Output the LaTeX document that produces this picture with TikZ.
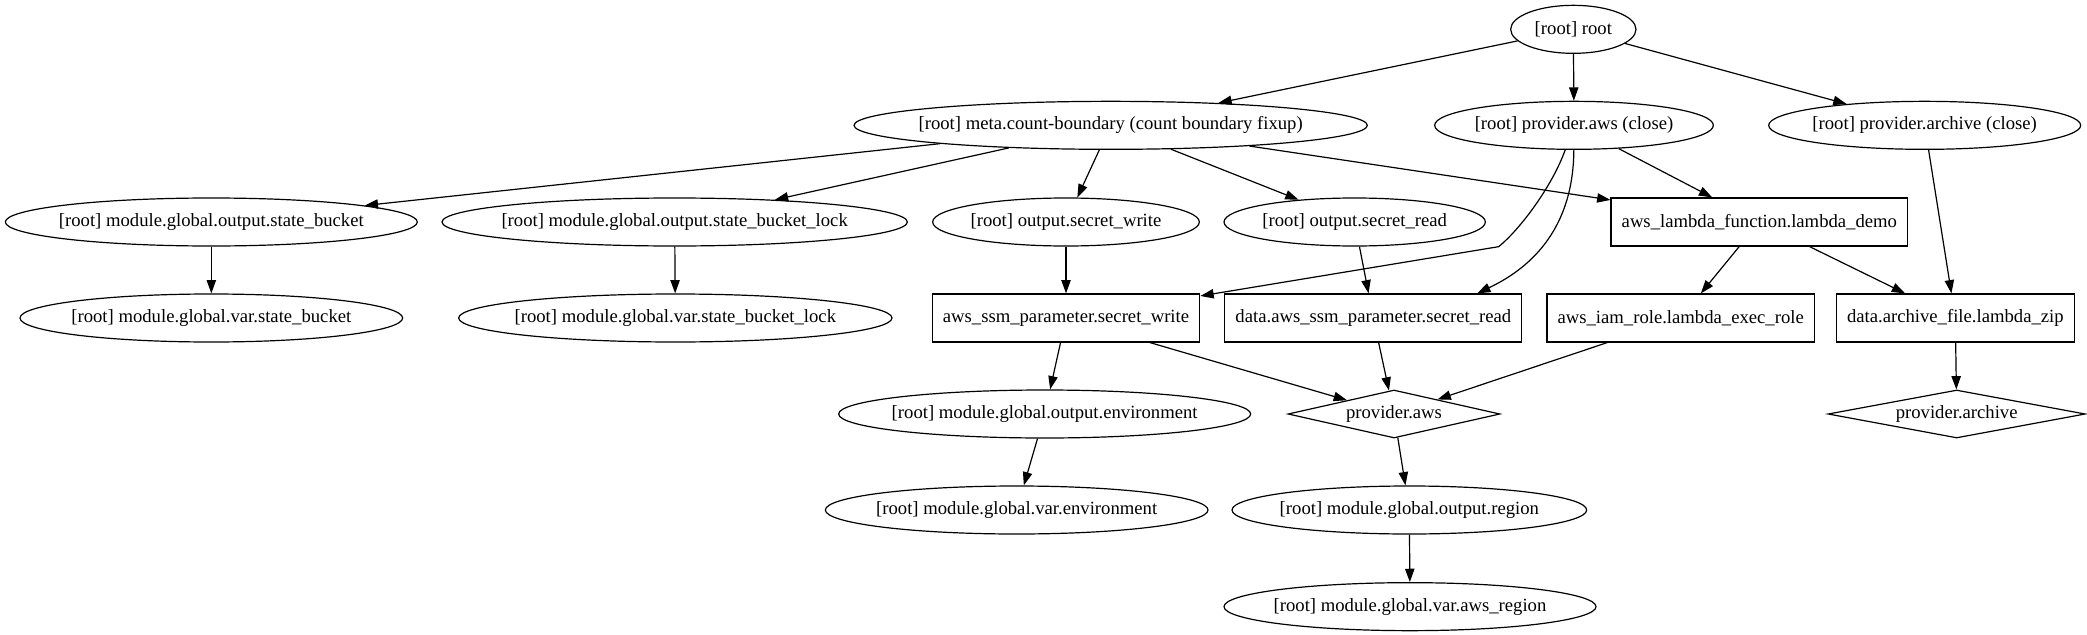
\documentclass[tikz,border=0pt]{standalone}
\usepackage{fontspec}
\setmainfont{Liberation Serif}
\usetikzlibrary{shapes.geometric,arrows.meta}

\begin{document}
\begin{tikzpicture}
      [x=1pt,y=-1pt,
       every node/.style={font=\fontsize{14}{16}\selectfont},
       nodeEll/.style={ellipse,draw,line width=0.9pt,inner xsep=-12pt,inner ysep=0pt,minimum height=36pt},
       nodeBox/.style={rectangle,draw,line width=0.9pt,inner xsep=8pt,minimum height=36pt},
       nodeDia/.style={diamond,draw,line width=0.9pt,aspect=4.4,inner sep=0pt,minimum height=36pt},
       arrowEdge/.style={line width=0.9pt,-{Triangle[length=10pt,width=7pt]}}]
      \useasboundingbox (0,0) rectangle (1565.25,476.25);

      \node[nodeEll,minimum width=94pt] (root) at (1180,22) {[root] root};
      \node[nodeEll,minimum width=385pt] (meta) at (833,94) {[root] meta.count-boundary (count boundary fixup)};
      \node[nodeEll,minimum width=209pt] (pcaws) at (1180.5,94) {[root] provider.aws (close)};
      \node[nodeEll,minimum width=234pt] (pcarch) at (1443.5,94) {[root] provider.archive (close)};
      \node[nodeEll,minimum width=309pt] (outbucket) at (158.5,166.5) {[root] module.global.output.state\_bucket};
      \node[nodeEll,minimum width=349pt] (outlock) at (506,166.5) {[root] module.global.output.state\_bucket\_lock};
      \node[nodeEll,minimum width=200pt] (outwrite) at (799.5,166.5) {[root] output.secret\_write};
      \node[nodeEll,minimum width=196pt] (outread) at (1016,166.5) {[root] output.secret\_read};
      \node[nodeBox] (lambda) at (1319.5,166.5) {aws\_lambda\_function.lambda\_demo};
      \node[nodeEll,minimum width=287pt] (varbucket) at (158.5,238.5) {[root] module.global.var.state\_bucket};
      \node[nodeEll,minimum width=325pt] (varlock) at (506.5,238.5) {[root] module.global.var.state\_bucket\_lock};
      \node[nodeBox] (ssmwrite) at (799.5,238.5) {aws\_ssm\_parameter.secret\_write};
      \node[nodeBox] (ssmread) at (1030,238.5) {data.aws\_ssm\_parameter.secret\_read};
      \node[nodeBox] (iamrole) at (1260.5,238.5) {aws\_iam\_role.lambda\_exec\_role};
      \node[nodeBox] (lambdazip) at (1466.5,238.5) {data.archive\_file.lambda\_zip};
      \node[nodeEll,minimum width=309pt] (outenv) at (783.5,310.5) {[root] module.global.output.environment};
      \node[nodeDia,minimum width=159pt] (provaws) at (1045.5,310.5) {provider.aws};
      \node[nodeDia,minimum width=193pt] (provarch) at (1467.5,310.5) {provider.archive};
      \node[nodeEll,minimum width=287pt] (varenv) at (762.5,382.5) {[root] module.global.var.environment};
      \node[nodeEll,minimum width=266pt] (outregion) at (1057,382.5) {[root] module.global.output.region};
      \node[nodeEll,minimum width=279pt] (varregion) at (1057.5,455) {[root] module.global.var.aws\_region};

      \foreach \from/\to in {root/meta,root/pcaws,root/pcarch,meta/outbucket,meta/outlock,
        meta/outwrite,meta/outread,meta/lambda,pcaws/lambda,pcarch/lambdazip,
        outbucket/varbucket,outlock/varlock,outwrite/ssmwrite,outread/ssmread,
        lambda/iamrole,lambda/lambdazip,ssmwrite/outenv,ssmwrite/provaws,ssmread/provaws,
        iamrole/provaws,lambdazip/provarch,outenv/varenv,provaws/outregion,outregion/varregion}
      \draw[arrowEdge] (\from) -- (\to);

      % bent edges out of provider.aws (close)
      \coordinate (bend) at (1124,185);
      \draw[arrowEdge] (pcaws) .. controls (1164,140) and (1140,172) .. (bend) -- (ssmwrite);
      \draw[arrowEdge] (pcaws) .. controls (1180,170) and (1150,200) .. ([xshift=-34pt]ssmread.north east);
    \end{tikzpicture}
\end{document}
